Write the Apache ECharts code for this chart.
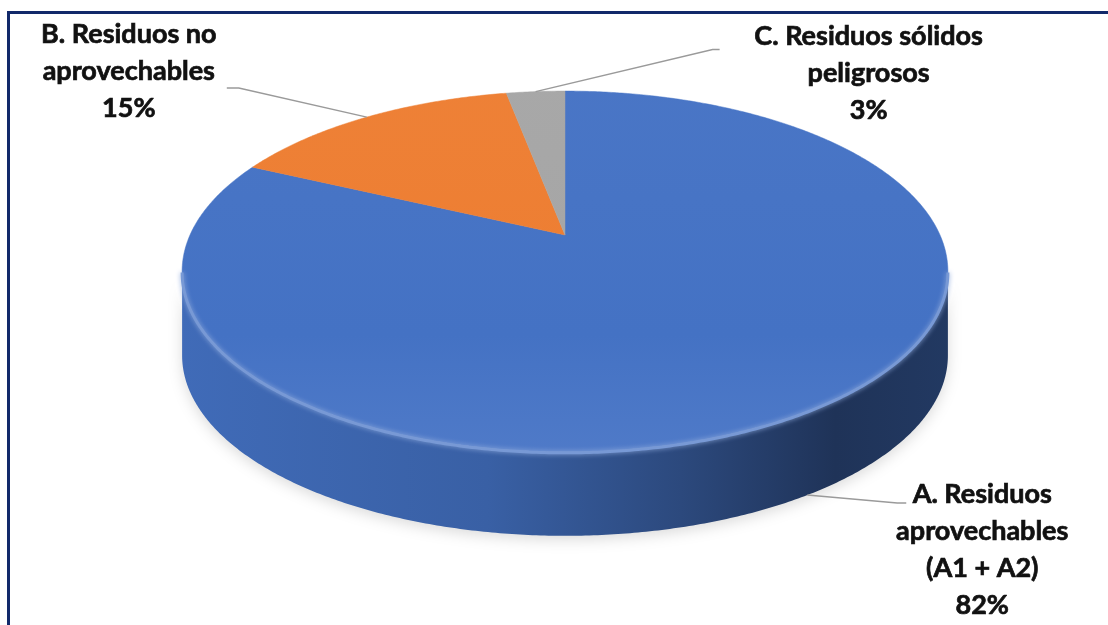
<!DOCTYPE html>
<html>
<head>
<meta charset="utf-8">
<script src="https://cdn.jsdelivr.net/npm/echarts@6/dist/echarts.min.js"></script>
<style>
  html, body { margin: 0; padding: 0; background: #ffffff; }
  #frame {
    position: absolute; left: 7px; top: 11px; right: 0; bottom: 0;
    border-top: 3px solid #12296a; border-left: 3px solid #12296a;
  }
  #chart { position: absolute; left: 0; top: 0; width: 1108px; height: 625px; }
</style>
</head>
<body>
<div id="frame"></div>
<div id="chart"></div>
<script>
// Composición de residuos sólidos (%)
const categories = [
  'A. Residuos aprovechables (A1 + A2)',
  'B. Residuos no aprovechables',
  'C. Residuos sólidos peligrosos'
];
const labelNames = [
  'A. Residuos\naprovechables\n(A1 + A2)',
  'B. Residuos no\naprovechables',
  'C. Residuos sólidos\npeligrosos'
];
const values = [82, 15, 3];
const colors = ['#4472C4', '#ED7D31', '#A5A5A5'];

// 3D pie geometry (tilted disc seen with mild perspective)
const geo = { cx: 565, cy: 235, rx: 375, ry: 173, k: 0.202, depth: 84 };
// label placement relative to each slice's anchor point
const labelLayout = [
  { anchor: 'bottom', bend: [90, 8], end: [99, 8], text: [175, 55] },
  { anchor: 'top', bend: [-128, -29], end: [-140, -29], text: [-238, -46] },
  { anchor: 'top', bend: [177, -42], end: [184, -42], text: [333, -18] }
];

const total = values.reduce((a, b) => a + b, 0);
const DEG = Math.PI / 180;

function proj(thetaDeg, dy) {
  const t = thetaDeg * DEG;
  const u = Math.sin(t), v = -Math.cos(t);
  const p = 1 / (1 - geo.k * v);
  return [geo.cx + geo.rx * u * p, geo.cy + geo.ry * v * p + (dy || 0)];
}
function arc(a, b, dy) {
  const pts = [];
  const n = Math.max(2, Math.ceil(Math.abs(b - a) / 0.5));
  for (let i = 0; i <= n; i++) pts.push(proj(a + (b - a) * i / n, dy));
  return pts;
}
// angles where the outer wall turns from hidden to visible
const visR = Math.acos(-geo.k) / DEG;
const visL = 360 - visR;

function shade(hex, f) {
  const n = parseInt(hex.slice(1), 16);
  let r = (n >> 16) & 255, g = (n >> 8) & 255, b = n & 255;
  const m = c => Math.max(0, Math.min(255, Math.round(f >= 0 ? c + (255 - c) * f : c * (1 + f))));
  return 'rgb(' + m(r) + ',' + m(g) + ',' + m(b) + ')';
}

function renderItem(params, api) {
  const i = params.dataIndex;
  let before = 0;
  for (let j = 0; j < i; j++) before += values[j];
  const v = api.value(0);
  const a0 = before / total * 360;
  const a1 = (before + v) / total * 360;
  const mid = (a0 + a1) / 2;
  const col = colors[i];
  const children = [];
  const left = geo.cx - geo.rx * 1.03, right = geo.cx + geo.rx * 1.03;

  // outer wall
  const s0 = Math.max(a0, visR), s1 = Math.min(a1, visL);
  if (s1 > s0) {
    const topArc = arc(s0, s1, 0);
    const botArc = arc(s1, s0, geo.depth);
    children.push({
      type: 'polygon', z2: 1,
      shape: { points: topArc.concat(botArc) },
      style: {
        fill: {
          type: 'linear', global: true, x: left, y: 0, x2: right, y2: 0,
          colorStops: [
            { offset: 0, color: shade(col, -0.06) },
            { offset: 0.4, color: shade(col, -0.16) },
            { offset: 0.65, color: shade(col, -0.36) },
            { offset: 0.85, color: shade(col, -0.55) },
            { offset: 1, color: shade(col, -0.5) }
          ]
        },
        shadowBlur: 14, shadowColor: 'rgba(0,0,0,0.14)', shadowOffsetY: 4
      }
    });
  }
  // top face
  const face = [[geo.cx, geo.cy]].concat(arc(a0, a1, 0));
  children.push({
    type: 'polygon', z2: 5,
    shape: { points: face },
    style: {
      fill: {
        type: 'linear', global: true, x: 0, y: geo.cy - geo.ry, x2: 0, y2: geo.cy + geo.ry * 1.25,
        colorStops: [
          { offset: 0, color: shade(col, 0.03) },
          { offset: 0.7, color: col },
          { offset: 1, color: shade(col, 0.06) }
        ]
      },
      stroke: col, lineWidth: 0.5
    }
  });
  // bevel highlight along the front rim
  if (s1 > s0) {
    children.push({
      type: 'polyline', z2: 6,
      shape: { points: arc(s0, s1, 1) },
      style: {
        stroke: shade(col, 0.28), lineWidth: 3, fill: null,
        shadowBlur: 5, shadowColor: shade(col, 0.4)
      }
    });
  }

  // leader line and label
  const lay = labelLayout[i];
  const anc = proj(mid, lay.anchor === 'bottom' ? geo.depth : 0);
  children.push({
    type: 'polyline', z2: 8,
    shape: { points: [anc, [anc[0] + lay.bend[0], anc[1] + lay.bend[1]], [anc[0] + lay.end[0], anc[1] + lay.end[1]]] },
    style: { stroke: '#9a9a9a', lineWidth: 1.5, fill: null }
  });
  children.push({
    type: 'text', z2: 9,
    x: anc[0] + lay.text[0], y: anc[1] + lay.text[1],
    style: {
      text: labelNames[i] + '\n' + Math.round(v / total * 100) + '%',
      align: 'center', verticalAlign: 'middle',
      fontFamily: 'Lato', fontWeight: 'bold', fontSize: 27, lineHeight: 37,
      fill: '#111111', stroke: '#111111', lineWidth: 0.7
    }
  });
  return { type: 'group', children };
}

const chart = echarts.init(document.getElementById('chart'), null, { renderer: 'canvas' });
chart.setOption({
  backgroundColor: 'transparent',
  animation: false,
  series: [{
    type: 'custom',
    coordinateSystem: 'none',
    renderItem: renderItem,
    data: values.map((v, i) => ({ name: categories[i], value: v }))
  }]
});
</script>
</body>
</html>
